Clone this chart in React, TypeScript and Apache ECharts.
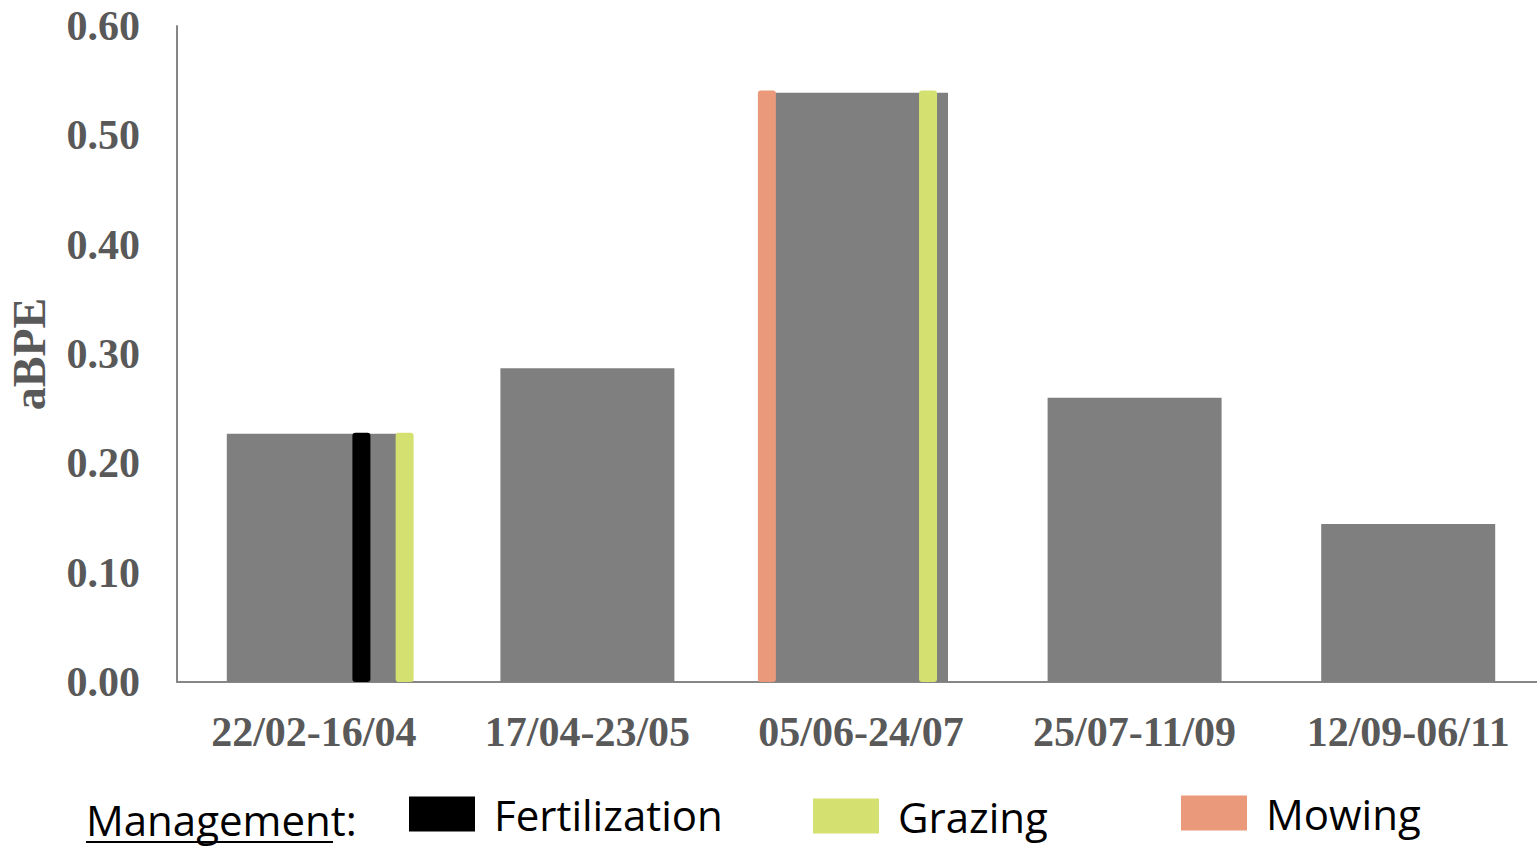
import React, { useEffect, useRef } from "react";
import * as echarts from "echarts";

const categories = ["22/02-16/04", "17/04-23/05", "05/06-24/07", "25/07-11/09", "12/09-06/11"];
const abpeValues = [0.227, 0.287, 0.539, 0.26, 0.1445];
const yTicks = { min: 0, max: 0.6, interval: 0.1 };
// management events: [position along period axis (category units), height]
const fertilization = [[0.674, 0.228]];
const grazing = [[0.832, 0.228], [2.745, 0.541]];
const mowing = [[2.156, 0.541]];

const COLORS = { bar: "#7f7f7f", Fertilization: "#000000", Grazing: "#d4e06f", Mowing: "#eb997b" };

const serif = "'Liberation Serif', 'Times New Roman', serif";
const sans = "'Open Sans', 'Noto Sans', sans-serif";

function eventSeries(name: string, data: number[][]) {
  const color = (COLORS as any)[name];
  return {
    name,
    type: "custom",
    xAxisIndex: 1,
    yAxisIndex: 0,
    z: 5,
    itemStyle: { color },
    encode: { x: 0, y: 1 },
    data,
    renderItem: (_p: any, api: any) => {
      const x = api.value(0);
      const v = api.value(1);
      const top = api.coord([x, v]);
      const bot = api.coord([x, 0]);
      return {
        type: "rect",
        shape: { x: top[0] - 9, y: top[1], width: 18, height: bot[1] - top[1], r: 3 },
        style: { fill: color },
      };
    },
  };
}

function legendFor(name: string, left: number, top: number) {
  return {
    show: true,
    data: [name],
    left,
    top,
    padding: 0,
    itemWidth: 66,
    itemHeight: 35,
    icon: "rect",
    selectedMode: false,
    textStyle: { fontFamily: sans, fontSize: 42, color: "#000", padding: [0, 0, 0, 14] },
  };
}

export default function App() {
  const ref = useRef<HTMLDivElement>(null);
  useEffect(() => {
    if (!ref.current) return;
    const chart = echarts.init(ref.current, null, { renderer: "svg" });
    chart.setOption({
      animation: false,
      backgroundColor: "#ffffff",
      grid: { left: 177, right: -8, top: 26, bottom: 166, containLabel: false, outerBoundsMode: "none" },
      legend: [
        legendFor("Fertilization", 409, 793),
        legendFor("Grazing", 813, 795),
        legendFor("Mowing", 1181, 792),
      ],
      xAxis: [
        {
          type: "category",
          data: categories,
          axisLine: { lineStyle: { color: "#868686", width: 2 } },
          axisTick: { show: false },
          axisLabel: {
            fontFamily: serif,
            fontWeight: "bold",
            fontSize: 42,
            color: "#595959",
            margin: 29,
            interval: 0,
          },
        },
        { type: "value", min: 0, max: 5, show: false },
      ],
      yAxis: {
        type: "value",
        min: yTicks.min,
        max: yTicks.max,
        interval: yTicks.interval,
        name: "aBPE",
        nameLocation: "middle",
        nameGap: 125,
        nameRotate: 90,
        nameTextStyle: { fontFamily: serif, fontWeight: "bold", fontSize: 46, color: "#595959" },
        axisLine: { show: true, lineStyle: { color: "#868686", width: 2 } },
        axisTick: { show: false },
        splitLine: { show: false },
        axisLabel: {
          fontFamily: serif,
          fontWeight: "bold",
          fontSize: 42,
          color: "#595959",
          margin: 37,
          formatter: (v: number) => v.toFixed(2),
        },
      },
      graphic: [
        {
          type: "text",
          left: 86,
          top: 798,
          style: { text: "Management:", fontFamily: sans, fontSize: 42, fill: "#000" },
        },
        {
          type: "line",
          shape: { x1: 86, y1: 842, x2: 333, y2: 842 },
          style: { stroke: "#000", lineWidth: 2 },
        },
      ],
      series: [
        {
          name: "aBPE",
          type: "bar",
          data: abpeValues,
          barWidth: 174,
          z: 2,
          itemStyle: { color: COLORS.bar },
        },
        eventSeries("Fertilization", fertilization),
        eventSeries("Grazing", grazing),
        eventSeries("Mowing", mowing),
      ],
    });
    return () => chart.dispose();
  }, []);
  return (
    <div
      ref={ref}
      style={{ position: "absolute", left: 0, top: 0, width: 1537, height: 848 }}
    />
  );
}
